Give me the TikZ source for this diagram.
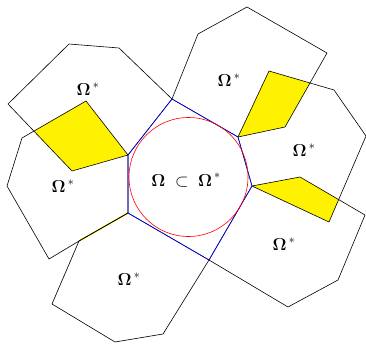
\documentclass[tikz,border=0pt]{standalone}
\usepackage{amsmath,amssymb}
\usepackage{xcolor}
\usepackage{tikz}

\begin{document}
\begin{tikzpicture}[x=1pt, y=-1pt, font=\fontsize{17}{20}\selectfont, line width=0.6pt]
\tikzstyle{cell}=[draw=black, line join=miter]
\tikzstyle{lap}=[fill=yellow]
\tikzstyle{lbl}=[inner sep=0pt]
\useasboundingbox (0,0) rectangle (366,343);
% central hexagon
\coordinate (h1) at (172,99);
\coordinate (h2) at (238,137);
\coordinate (h3) at (252,186);
\coordinate (h4) at (209,260);
\coordinate (h5) at (128,213);
\coordinate (h6) at (128,155);
% outer cells
\coordinate (a1) at (8,104);   \coordinate (a2) at (69,44);
\coordinate (a3) at (119,48);  \coordinate (a4) at (72,171);
\coordinate (b1) at (86,101);  \coordinate (b2) at (79,241);
\coordinate (b3) at (49,259);  \coordinate (b4) at (7,186);
\coordinate (b5) at (22,138);
\coordinate (c1) at (163,334); \coordinate (c2) at (115,342);
\coordinate (c3) at (52,304);
\coordinate (d1) at (198,34);  \coordinate (d2) at (247,7);
\coordinate (d3) at (327,53);  \coordinate (d4) at (285,127);
\coordinate (e1) at (269,71);  \coordinate (e2) at (334,90);
\coordinate (e3) at (366,136); \coordinate (e4) at (329,222);
\coordinate (f1) at (300,177); \coordinate (f2) at (365,215);
\coordinate (f3) at (338,280); \coordinate (f4) at (288,307);
% overlaps
\begin{scope}
\clip (a1) -- (a2) -- (a3) -- (h1) -- (h6) -- (a4) -- cycle;
\fill[lap] (b1) -- (h6) -- (h5) -- (b2) -- (b3) -- (b4) -- (b5) -- cycle;
\end{scope}
\begin{scope}
\clip (h1) -- (d1) -- (d2) -- (d3) -- (d4) -- (h2) -- cycle;
\fill[lap] (h2) -- (e1) -- (e2) -- (e3) -- (e4) -- (h3) -- cycle;
\end{scope}
\begin{scope}
\clip (h2) -- (e1) -- (e2) -- (e3) -- (e4) -- (h3) -- cycle;
\fill[lap] (h3) -- (f1) -- (f2) -- (f3) -- (f4) -- (h4) -- cycle;
\end{scope}
\draw[yellow, line width=1.6pt] (b2) -- (h5);
% cells
\draw[cell] (a1) -- (a2) -- (a3) -- (h1) -- (h6) -- (a4) -- cycle;
\draw[cell] (b1) -- (h6) -- (h5) -- (b2) -- (b3) -- (b4) -- (b5) -- cycle;
\draw[cell] (b2) -- (h5) -- (h4) -- (c1) -- (c2) -- (c3) -- cycle;
\draw[cell] (h1) -- (d1) -- (d2) -- (d3) -- (d4) -- (h2) -- cycle;
\draw[cell] (h2) -- (e1) -- (e2) -- (e3) -- (e4) -- (h3) -- cycle;
\draw[cell] (h3) -- (f1) -- (f2) -- (f3) -- (f4) -- (h4) -- cycle;
% inner domain
\draw[blue] (h1) -- (h2) -- (h3) -- (h4) -- (h5) -- (h6) -- cycle;
\coordinate (o) at (188.5,177);
\draw[red] (o) circle[radius=59.5];
\node[lbl] (omin) at (186,180) {$\boldsymbol{\Omega}\;\subset\;\boldsymbol{\Omega}^{\,*}$};
\node[lbl] (omA) at (88,89) {$\boldsymbol{\Omega}^{\,*}$};
\node[lbl] (omB) at (63,186) {$\boldsymbol{\Omega}^{\,*}$};
\node[lbl] (omC) at (129,279) {$\boldsymbol{\Omega}^{\,*}$};
\node[lbl] (omD) at (229,80) {$\boldsymbol{\Omega}^{\,*}$};
\node[lbl] (omE) at (304,150) {$\boldsymbol{\Omega}^{\,*}$};
\node[lbl] (omF) at (284,244) {$\boldsymbol{\Omega}^{\,*}$};
\end{tikzpicture}
\end{document}
